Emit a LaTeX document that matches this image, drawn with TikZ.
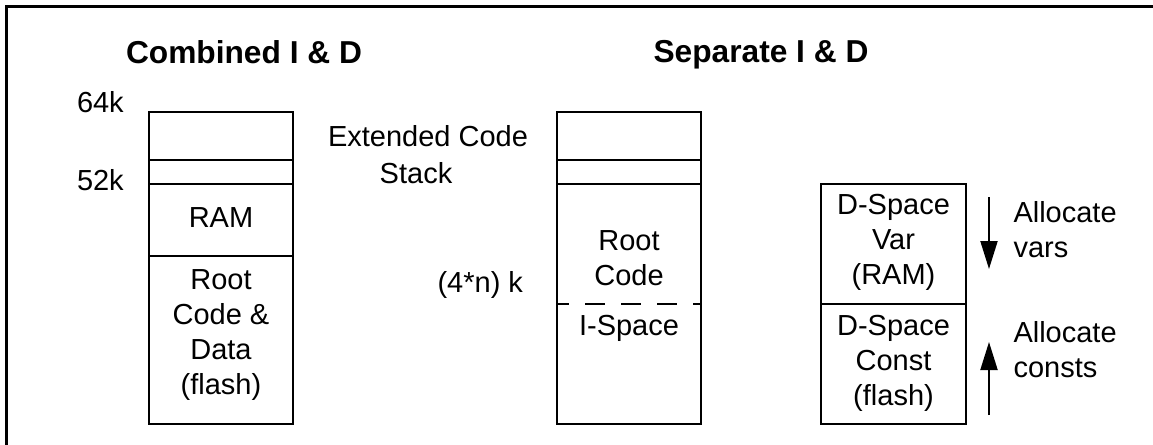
\documentclass[tikz,border=0pt]{standalone}
\usepackage{fontspec}
\setmainfont{Liberation Sans}
\usetikzlibrary{arrows.meta}
\begin{document}
\begin{tikzpicture}[x=0.5pt,y=-0.5pt,
  frameline/.style={line width=1.35pt},
  seg/.style={draw,rectangle,line width=1pt,inner sep=0pt,outer sep=0pt,minimum width=72pt},
  lbl/.style={inner sep=0pt,outer sep=0pt,align=center,font=\fontsize{14.5pt}{17.5pt}\selectfont},
  ttl/.style={inner sep=0pt,outer sep=0pt,font=\fontsize{15.85pt}{19pt}\selectfont\bfseries},
  alloc/.style={line width=1pt,-{Triangle[length=14pt,width=8.5pt]}},
  sepline/.style={line width=1pt,dash pattern=on 10pt off 8pt,dash phase=4pt}]
\useasboundingbox (0,0) rectangle (1153,445);
% frame (left and top edges)
\draw[frameline] (6.5,445) -- (6.5,6.5) -- (1153,6.5);
% titles
\node[ttl,anchor=base] (t1) at (244,63) {Combined I \& D};
\node[ttl,anchor=base] (t2) at (761,62) {Separate I \& D};
% combined map
\node[seg,minimum height=24pt] (c1) at (221,136) {};
\node[seg,minimum height=12pt] (c2) at (221,172) {};
\node[seg,minimum height=36pt] (c3) at (221,220) {};
\node[seg,minimum height=84pt] (c4) at (221,340) {};
\node[lbl,anchor=base] (ram) at (221,227) {RAM};
\node[lbl] (rootdata) at (221,335.2) {Root\\Code \&\\Data\\(flash)};
\node[lbl,anchor=base west] (k64) at (77,112) {64k};
\node[lbl,anchor=base west] (k52) at (77,190) {52k};
% separate I-space map
\node[seg,minimum height=24pt] (s1) at (629,136) {};
\node[seg,minimum height=12pt] (s2) at (629,172) {};
\node[seg,minimum height=120pt] (s3) at (629,304) {};
\draw[sepline] (s3.west) -- (s3.east);
\node[lbl] (rootcode) at (629,258.1) {Root\\Code};
\node[lbl,anchor=base] (ispace) at (629,335) {I-Space};
\node[lbl,anchor=base] (ext1) at (428,146) {Extended Code};
\node[lbl,anchor=base] (ext2) at (416,183) {Stack};
\node[lbl,anchor=base east] (kn) at (523,292) {(4*n) k};
% separate D-space map
\node[seg,minimum width=72.5pt,minimum height=60pt] (d1) at (893.5,244) {};
\node[seg,minimum width=72.5pt,minimum height=60pt] (d2) at (893.5,364) {};
\node[lbl] (dvar) at (893.5,242.7) {D-Space\\Var\\(RAM)};
\node[lbl] (dconst) at (893.5,363.6) {D-Space\\Const\\(flash)};
% allocation arrows
\coordinate (a1) at (989,197);
\coordinate (a2) at (989,269);
\coordinate (a3) at (989,415);
\coordinate (a4) at (989,342);
\draw[alloc] (a1) -- (a2);
\draw[alloc] (a3) -- (a4);
\node[lbl,align=left,anchor=west] (av) at (1013.5,229.8) {Allocate\\vars};
\node[lbl,align=left,anchor=west] (ac) at (1013.5,349.6) {Allocate\\consts};
\end{tikzpicture}
\end{document}
